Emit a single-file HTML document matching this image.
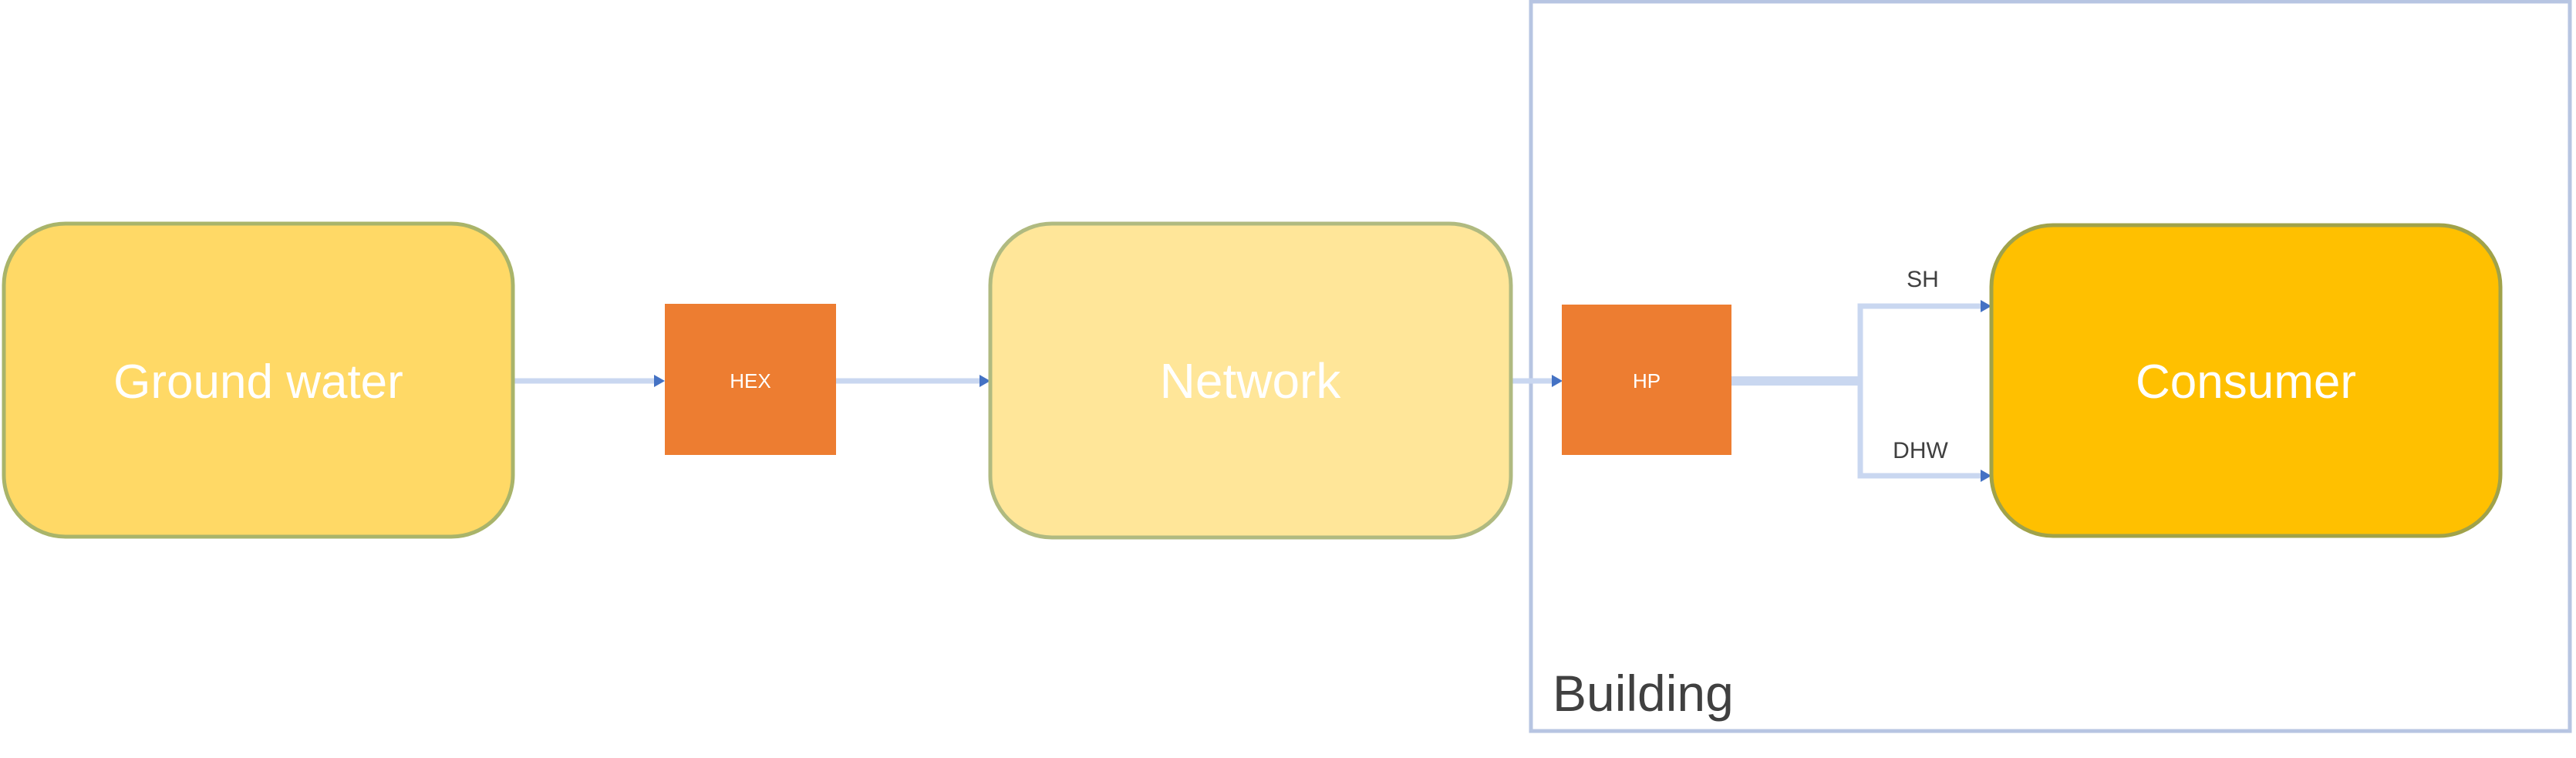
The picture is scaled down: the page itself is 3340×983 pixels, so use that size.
<!DOCTYPE html>
<html><head><meta charset="utf-8"><style>
html,body{margin:0;padding:0;background:#fff;}
svg{display:block;}
</style></head><body>
<svg width="3340" height="983" viewBox="0 0 3340 983" xmlns="http://www.w3.org/2000/svg" font-family="Liberation Sans, sans-serif">
<!-- Building box -->
<rect x="1985" y="2" width="1347" height="946" fill="none" stroke="#b7c5e2" stroke-width="5"/>
<text x="2013" y="922" font-size="66" fill="#404040">Building</text>
<!-- connectors -->
<g stroke="#c9d7f0" stroke-width="7" fill="none">
<line x1="665" y1="494" x2="850" y2="494"/>
<line x1="1084" y1="494" x2="1272" y2="494"/>
<line x1="1960" y1="494" x2="2014" y2="494"/>
<line x1="2245" y1="494" x2="2412" y2="494" stroke-width="12"/>
<polyline points="2412,494 2412,397 2570,397"/>
<polyline points="2412,494 2412,617 2570,617"/>
</g>
<g fill="#4472c4">
<path d="M848,486 L862,494 L848,502 z"/>
<path d="M1270,486 L1284,494 L1270,502 z"/>
<path d="M2012,486 L2026,494 L2012,502 z"/>
<path d="M2568,389 L2582,397 L2568,405 z"/>
<path d="M2568,609 L2582,617 L2568,625 z"/>
</g>
<!-- nodes -->
<rect x="5" y="290" width="660" height="406" rx="80" fill="#ffd966" stroke="#a9b46a" stroke-width="5"/>
<text x="335" y="516" font-size="62" fill="#fff" text-anchor="middle">Ground water</text>
<rect x="862" y="394" width="222" height="196" fill="#ed7d31"/>
<text x="973" y="503" font-size="26" fill="#fff" text-anchor="middle">HEX</text>
<rect x="1284" y="290" width="675" height="407" rx="80" fill="#ffe699" stroke="#b0ba80" stroke-width="5"/>
<text x="1621" y="516" font-size="64" fill="#fff" text-anchor="middle">Network</text>
<rect x="2025" y="395" width="220" height="195" fill="#ed7d31"/>
<text x="2135" y="503" font-size="26" fill="#fff" text-anchor="middle">HP</text>
<rect x="2582" y="292" width="660" height="403" rx="80" fill="#ffc000" stroke="#a0a24a" stroke-width="5"/>
<text x="2912" y="516" font-size="62" fill="#fff" text-anchor="middle">Consumer</text>
<!-- labels -->
<text x="2493" y="372" font-size="30" fill="#404040" text-anchor="middle">SH</text>
<text x="2490" y="594" font-size="30" fill="#404040" text-anchor="middle">DHW</text>
</svg>
</body></html>
